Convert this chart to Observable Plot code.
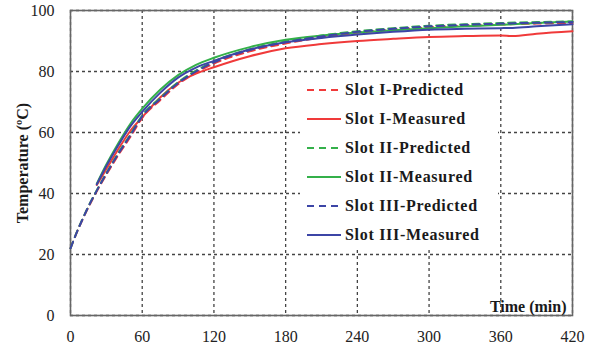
<!DOCTYPE html>
<html>
<head>
<meta charset="utf-8">
<script src="https://cdn.jsdelivr.net/npm/d3@7"></script>
<script src="https://cdn.jsdelivr.net/npm/@observablehq/plot@0.6"></script>
<style>
  html, body { margin: 0; padding: 0; background: #fff; }
  #wrap { position: relative; width: 597px; height: 345px; }
  #legend { position: absolute; left: 300px; top: 76px; width: 198px; height: 174px; background: #fff; }
  .row { position: absolute; left: 7px; height: 20px; display: flex; align-items: center; }
  .row svg { width: 34px; height: 6px; margin-right: 4px; }
  .row span { font: bold 16px "Liberation Serif", "Times New Roman", serif; letter-spacing: 0.7px; color: #1a1a1a; white-space: nowrap; }
</style>
</head>
<body>
<div id="wrap"></div>
<script>
// ---- data ----
const timePred = [0, 5, 10, 15, 20, 30, 40, 50, 60, 75, 90, 105, 120, 150, 180, 210, 240, 270, 300, 330, 360, 390, 420];
const slotIPred   = [22, 27, 31.4, 35.5, 39.3, 46.2, 52.6, 58.5, 64.8, 70.6, 75.8, 79.6, 82.6, 86.6, 89.2, 91.2, 92.7, 93.7, 94.5, 95.0, 95.4, 95.7, 95.9];
const slotIIPred  = [22, 27.1, 31.6, 35.8, 39.6, 46.7, 53.3, 59.3, 65.6, 71.3, 76.5, 80.3, 83.3, 87.3, 89.9, 91.8, 93.2, 94.2, 95.0, 95.5, 95.9, 96.2, 96.4];
const slotIIIPred = [22, 27, 31.5, 35.7, 39.5, 46.5, 53, 59, 65.3, 71, 76.2, 80, 83, 87, 89.6, 91.5, 93, 94, 94.8, 95.3, 95.7, 96, 96.2];

const timeMeas = [22, 30, 40, 50, 60, 75, 90, 105, 120, 150, 180, 210, 240, 270, 300, 330, 360, 370, 390, 420];
const slotIMeas   = [42.8, 48, 54.5, 60.5, 65, 71.5, 76.3, 79.3, 81.4, 85, 87.6, 89, 90, 90.7, 91.3, 91.6, 91.8, 91.6, 92.4, 93.2];
const slotIIMeas  = [43.2, 49.5, 56.5, 62.8, 67.8, 74, 78.8, 82.2, 84.5, 88, 90.4, 91.8, 92.8, 93.5, 94.2, 94.8, 95.3, 95.5, 95.9, 96.4];
const slotIIIMeas = [43, 49, 55.8, 62, 66.8, 73, 78, 81.3, 83.5, 87.2, 89.6, 91, 92.1, 93, 93.7, 94, 94.2, 94.3, 94.8, 95.5];

const xTicks = [0, 60, 120, 180, 240, 300, 360, 420];
const yTicks = [0, 20, 40, 60, 80, 100];

const seriesNames = ["Slot I-Predicted", "Slot I-Measured", "Slot II-Predicted", "Slot II-Measured", "Slot III-Predicted", "Slot III-Measured"];
const colors = { I: "#f03a3a", II: "#34b04a", III: "#3c45a6" };

// ---- build tables ----
const toRows = (xs, ys) => xs.map((x, i) => ({ x, y: ys[i] }));
const series = [
  { name: seriesNames[1], data: toRows(timeMeas, slotIMeas), color: colors.I, dash: null },
  { name: seriesNames[0], data: toRows(timePred, slotIPred), color: colors.I, dash: "7,5" },
  { name: seriesNames[3], data: toRows(timeMeas, slotIIMeas), color: colors.II, dash: null },
  { name: seriesNames[2], data: toRows(timePred, slotIIPred), color: colors.II, dash: "7,5" },
  { name: seriesNames[5], data: toRows(timeMeas, slotIIIMeas), color: colors.III, dash: null },
  { name: seriesNames[4], data: toRows(timePred, slotIIIPred), color: colors.III, dash: "7,5" }
];

const font = '"Liberation Serif", "Times New Roman", serif';

const chart = Plot.plot({
  width: 597,
  height: 345,
  marginLeft: 70,
  marginRight: 25,
  marginTop: 10,
  marginBottom: 30,
  style: { fontFamily: font, fontSize: "16px", color: "#222", background: "#fff" },
  x: { domain: [0, 420], ticks: xTicks },
  y: { domain: [0, 100], ticks: yTicks },
  marks: [
    Plot.gridX(xTicks, { stroke: "#444", strokeOpacity: 1, strokeDasharray: "3,3", strokeWidth: 1.3 }),
    Plot.gridY(yTicks, { stroke: "#444", strokeOpacity: 1, strokeDasharray: "3,3", strokeWidth: 1.3 }),
    Plot.frame({ stroke: "#666", strokeWidth: 1.6 }),
    Plot.axisX(xTicks, { tickSize: 0, tickPadding: 15, label: null, fontSize: 16 }),
    Plot.axisY(yTicks, { tickSize: 0, tickPadding: 16, label: null, fontSize: 16 }),
    ...series.map(s => Plot.line(s.data, {
      x: "x", y: "y", stroke: s.color, strokeWidth: 2,
      strokeDasharray: s.dash || undefined, curve: "monotone-x"
    })),
    Plot.text(["Time (min)"], {
      frameAnchor: "bottom-right", dx: -6, dy: -4, textAnchor: "end", lineAnchor: "bottom",
      fontWeight: "bold", fontSize: 16, fill: "#1a1a1a", style: "letter-spacing:0.7px"
    }),
    Plot.text(["Temperature (ºC)"], {
      frameAnchor: "left", dx: -48, rotate: -90, textAnchor: "middle", lineAnchor: "middle",
      fontWeight: "bold", fontSize: 16, fill: "#1a1a1a"
    })
  ]
});

const wrap = document.getElementById("wrap");
wrap.appendChild(chart);

// ---- legend overlay ----
const legend = document.createElement("div");
legend.id = "legend";
const legendOrder = [
  { name: seriesNames[0], color: colors.I, dash: true },
  { name: seriesNames[1], color: colors.I, dash: false },
  { name: seriesNames[2], color: colors.II, dash: true },
  { name: seriesNames[3], color: colors.II, dash: false },
  { name: seriesNames[4], color: colors.III, dash: true },
  { name: seriesNames[5], color: colors.III, dash: false }
];
legendOrder.forEach((s, i) => {
  const row = document.createElement("div");
  row.className = "row";
  row.style.top = (4 + i * 29) + "px";
  row.innerHTML = `<svg viewBox="0 0 34 6"><line x1="0" y1="3" x2="34" y2="3" stroke="${s.color}" stroke-width="2" ${s.dash ? 'stroke-dasharray="7,5"' : ''}/></svg><span>${s.name}</span>`;
  legend.appendChild(row);
});
wrap.appendChild(legend);
</script>
</body>
</html>
